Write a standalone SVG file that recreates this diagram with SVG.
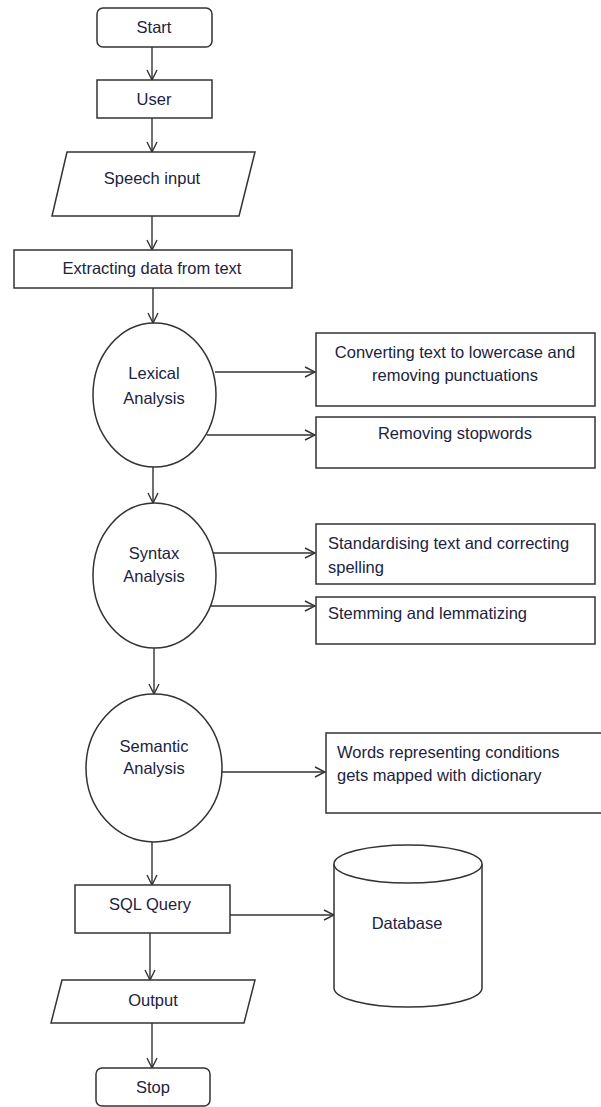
<svg xmlns="http://www.w3.org/2000/svg" width="601" height="1107" viewBox="0 0 601 1107">
<style>
.s{fill:#fff;stroke:#333;stroke-width:1.5}
.t{font-family:"Liberation Sans",Arial,sans-serif;font-size:16.5px;fill:#1c2340}
.c{text-anchor:middle}
.e{stroke:#333;stroke-width:1.4;fill:none}
</style>
<defs>
<marker id="a" viewBox="0 0 12 12" refX="11" refY="6" markerWidth="12" markerHeight="12" markerUnits="userSpaceOnUse" orient="auto">
<path d="M1,1 L11,6 L1,11" fill="none" stroke="#333" stroke-width="1.4"/>
</marker>
</defs>
<rect width="601" height="1107" fill="#fff"/>
<g id="connectors">
<line class="e" x1="152" y1="47" x2="152" y2="80" marker-end="url(#a)"/>
<line class="e" x1="152" y1="118" x2="152" y2="152" marker-end="url(#a)"/>
<line class="e" x1="152" y1="216" x2="152" y2="250" marker-end="url(#a)"/>
<line class="e" x1="153" y1="288" x2="153" y2="323" marker-end="url(#a)"/>
<line class="e" x1="215" y1="372" x2="315" y2="372" marker-end="url(#a)"/>
<line class="e" x1="207" y1="435" x2="315" y2="435" marker-end="url(#a)"/>
<line class="e" x1="153" y1="467" x2="153" y2="503" marker-end="url(#a)"/>
<line class="e" x1="213" y1="553" x2="315" y2="553" marker-end="url(#a)"/>
<line class="e" x1="211" y1="606" x2="315" y2="606" marker-end="url(#a)"/>
<line class="e" x1="154" y1="648" x2="154" y2="694" marker-end="url(#a)"/>
<line class="e" x1="222" y1="772" x2="325" y2="772" marker-end="url(#a)"/>
<line class="e" x1="152" y1="842" x2="152" y2="885" marker-end="url(#a)"/>
<line class="e" x1="230" y1="915" x2="334" y2="915" marker-end="url(#a)"/>
<line class="e" x1="150" y1="933" x2="150" y2="980" marker-end="url(#a)"/>
<line class="e" x1="152" y1="1023" x2="152" y2="1068" marker-end="url(#a)"/>
</g>
<g id="start"><rect class="s" x="97" y="8" width="115" height="39" rx="6"/><text class="t c" x="154" y="33">Start</text></g>
<g id="user"><rect class="s" x="97" y="80" width="115" height="38"/><text class="t c" x="154" y="105">User</text></g>
<g id="speech"><polygon class="s" points="67,152 255,152 239,216 52,216"/><text class="t c" x="152" y="184">Speech input</text></g>
<g id="extract"><rect class="s" x="14" y="250" width="278" height="38"/><text class="t c" x="152" y="274">Extracting data from text</text></g>
<g id="lexical"><ellipse class="s" cx="154.5" cy="395" rx="61.5" ry="72"/><text class="t c" x="154" y="379">Lexical</text><text class="t c" x="154" y="404">Analysis</text></g>
<g id="lower"><rect class="s" x="316" y="333" width="279" height="73"/><text class="t c" x="455" y="358">Converting text to lowercase and</text><text class="t c" x="455" y="381">removing punctuations</text></g>
<g id="stopwords"><rect class="s" x="316" y="417" width="279" height="51"/><text class="t c" x="455" y="439">Removing stopwords</text></g>
<g id="syntax"><ellipse class="s" cx="154.5" cy="575.5" rx="61.5" ry="72.5"/><text class="t c" x="154" y="559">Syntax</text><text class="t c" x="154" y="582">Analysis</text></g>
<g id="standard"><rect class="s" x="316" y="524" width="279" height="60"/><text class="t" x="328" y="549">Standardising text and correcting</text><text class="t" x="328" y="573">spelling</text></g>
<g id="stemming"><rect class="s" x="316" y="597" width="279" height="47"/><text class="t" x="328" y="619">Stemming and lemmatizing</text></g>
<g id="semantic"><ellipse class="s" cx="154" cy="768" rx="68" ry="74"/><text class="t c" x="154" y="752">Semantic</text><text class="t c" x="154" y="774">Analysis</text></g>
<g id="words"><rect class="s" x="326" y="733" width="280" height="80"/><text class="t" x="337" y="758">Words representing conditions</text><text class="t" x="337" y="781">gets mapped with dictionary</text></g>
<g id="sql"><rect class="s" x="75" y="885" width="155" height="48"/><text class="t c" x="150" y="910">SQL Query</text></g>
<g id="database"><path class="s" d="M334,864 L334,988 A74,19 0 0 0 482,988 L482,864"/><ellipse class="s" cx="408" cy="864" rx="74" ry="19"/><text class="t c" x="407" y="929">Database</text></g>
<g id="output"><polygon class="s" points="62,980 255,980 244,1023 51,1023"/><text class="t c" x="153" y="1006">Output</text></g>
<g id="stop"><rect class="s" x="96" y="1068" width="114" height="38" rx="6"/><text class="t c" x="153" y="1093">Stop</text></g>
</svg>
